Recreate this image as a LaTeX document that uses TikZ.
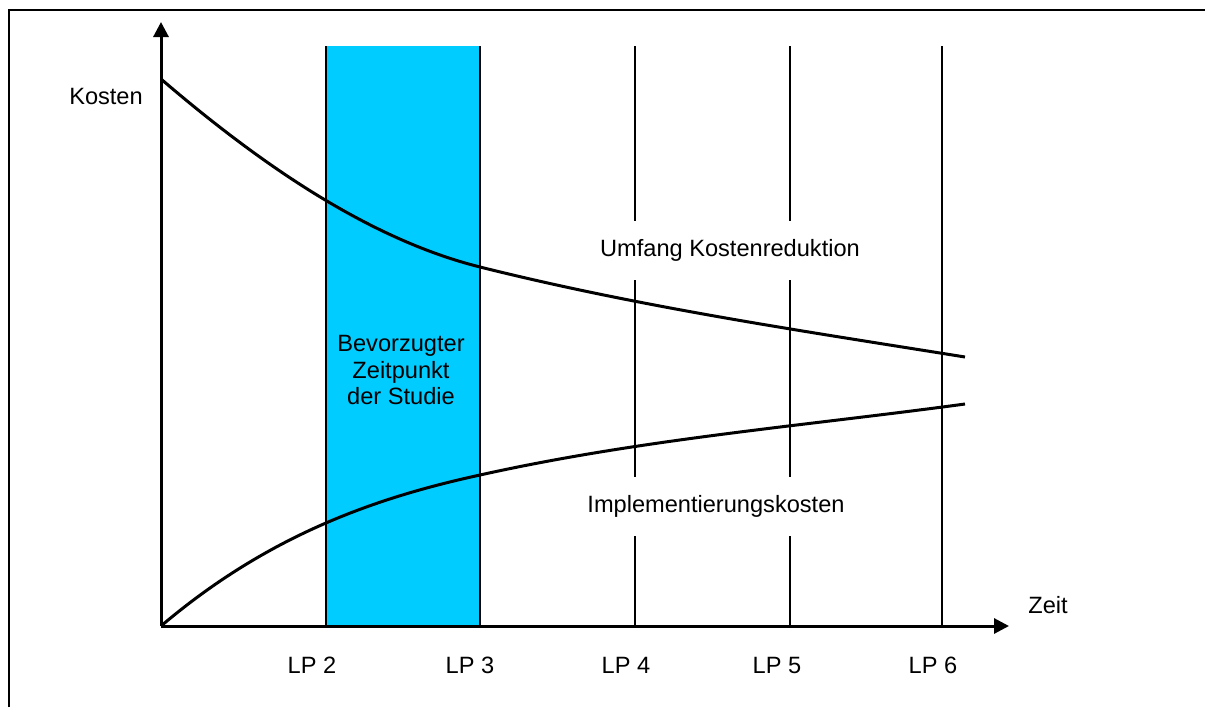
\documentclass[tikz,border=0pt]{standalone}
\usepackage{fontspec}
\setmainfont{Liberation Sans}
\usetikzlibrary{arrows.meta}
\definecolor{bandblue}{HTML}{00CCFF}
\tikzset{
  axis/.style={line width=1.5pt, -{Triangle[length=7.5pt,width=7.5pt]}},
  curve/.style={line width=1.5pt},
  lpline/.style={line width=0.7pt},
  lbl/.style={font=\fontsize{11.8}{13.3}\selectfont, inner sep=1pt},
  gaplbl/.style={lbl, fill=white, minimum height=29.5pt}
}
\begin{document}
\begin{tikzpicture}[x=0.5pt, y=-0.5pt]
\useasboundingbox (0,0) rectangle (1205,707);
% frame
\draw[line width=1pt] (9,707) -- (9,10) -- (1205,10);
% preferred band
\fill[bandblue] (326,46) rectangle (480,626);
% vertical lines
\coordinate (lp2top) at (326,46);
\coordinate (lp2bot) at (326,626);
\coordinate (lp3top) at (480,46);
\coordinate (lp3bot) at (480,626);
\coordinate (lp4top) at (635,46);
\coordinate (lp4bot) at (635,626);
\coordinate (lp5top) at (790,46);
\coordinate (lp5bot) at (790,626);
\coordinate (lp6top) at (942,46);
\coordinate (lp6bot) at (942,626);
\draw[lpline] (lp2top) -- (lp2bot);
\draw[lpline] (lp3top) -- (lp3bot);
\draw[lpline] (lp4top) -- (lp4bot);
\draw[lpline] (lp5top) -- (lp5bot);
\draw[lpline] (lp6top) -- (lp6bot);
% curves
\draw[curve] (161,79)  % reduction
    .. controls (267,170) and (374,240.5) .. (480,267)
    .. controls (642,307.5) and (803,331) .. (965,357);
\draw[curve] (161,626)  % implementation
    .. controls (267,536) and (374,498) .. (480,475)
    .. controls (642,439) and (803,426) .. (965,404);
% axes
\coordinate (origin) at (161,626);
\coordinate (ytip) at (161,22);
\coordinate (xtip) at (1009,626);
\draw[axis] (origin) -- (ytip);
\draw[axis] (origin) -- (xtip);
% labels
\node[lbl] (kosten) at (106,96) {Kosten};
\node[lbl] (zeit) at (1048,605) {Zeit};
\node[gaplbl] (umfang) at (730,250) {Umfang Kostenreduktion};
\node[gaplbl] (impl) at (716,506) {Implementierungskosten};
\node[lbl, align=center, text depth=0pt] (studie) at (401,370)
    {Bevorzugter\\Zeitpunkt\\der Studie};
\node[lbl] (lp2) at (312,665) {LP 2};
\node[lbl] (lp3) at (470,665) {LP 3};
\node[lbl] (lp4) at (626,665) {LP 4};
\node[lbl] (lp5) at (777,665) {LP 5};
\node[lbl] (lp6) at (933,665) {LP 6};
\end{tikzpicture}
\end{document}
